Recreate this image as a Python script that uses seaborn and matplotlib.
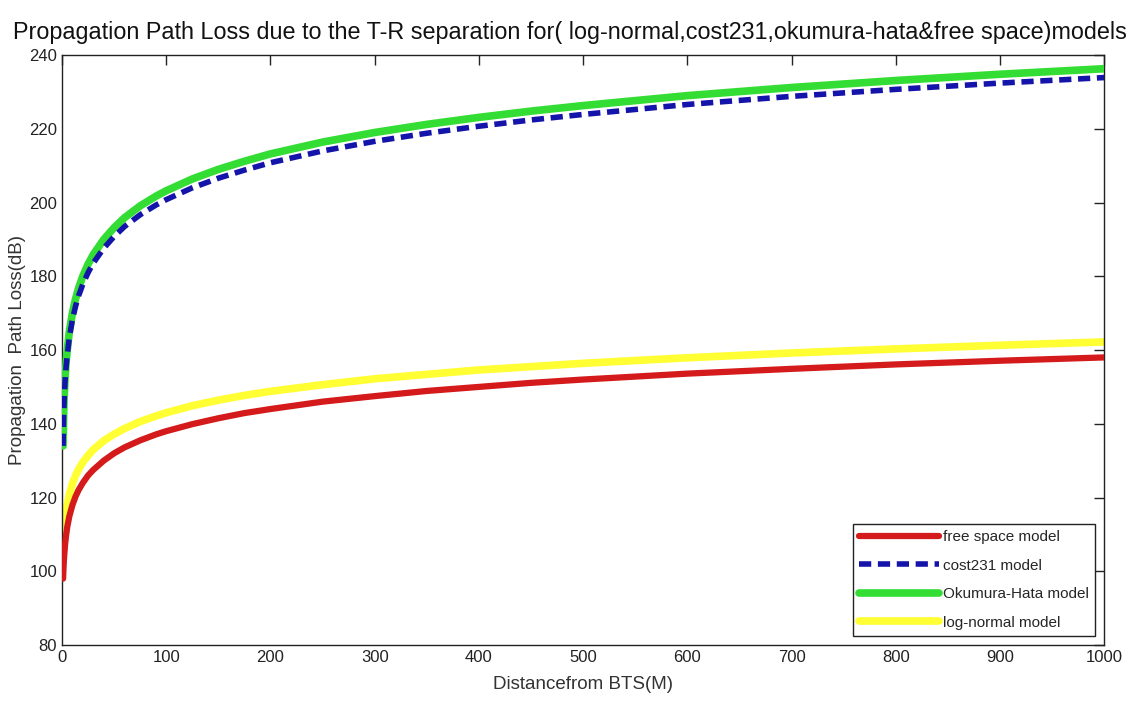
import matplotlib
matplotlib.use("Agg")
import matplotlib.pyplot as plt
import seaborn as sns

distance = [1, 1.5, 2, 3, 4, 5, 7, 10, 13, 16, 20, 25, 30, 40, 50, 60, 75, 90, 100,
            125, 150, 175, 200, 250, 300, 350, 400, 450, 500, 600, 700, 800, 900, 1000]

free_space = [98, 101.5, 104, 107.5, 110, 112, 114.9, 118, 120.3, 122.1, 124, 126,
              127.5, 130, 132, 133.6, 135.5, 137.1, 138, 139.9, 141.5, 142.9, 144,
              146, 147.5, 148.9, 150, 151.1, 152, 153.6, 154.9, 156.1, 157.1, 158]
cost231 = [134, 141.5, 146.3, 152, 155.8, 158.6, 163.4, 168.3, 171.9, 174.8, 177.9,
           181, 183.6, 187.6, 190.8, 193.5, 196.7, 199.3, 200.8, 204, 206.6, 208.8,
           210.8, 214, 216.6, 218.8, 220.7, 222.4, 223.9, 226.6, 228.8, 230.7, 232.4, 233.9]
okumura_hata = [134, 142, 147, 153, 157, 160, 165, 170.1, 173.9, 176.9, 180.1, 183.3,
                185.9, 190, 193.2, 195.9, 199.1, 201.7, 203.2, 206.4, 209, 211.2, 213.2,
                216.4, 219, 221.2, 223.1, 224.8, 226.3, 229, 231.2, 233.1, 234.8, 236.3]
log_normal = [104.6, 108, 110.4, 113.8, 116.2, 118, 120.8, 123.8, 126, 127.7, 129.6,
              131.4, 133, 135.4, 137.2, 138.7, 140.6, 142.1, 143, 144.9, 146.4, 147.7,
              148.8, 150.6, 152.2, 153.4, 154.6, 155.5, 156.4, 157.9, 159.2, 160.3, 161.3, 162.2]

series_labels = ["free space model", "cost231 model", "Okumura-Hata model", "log-normal model"]
x_ticks = list(range(0, 1001, 100))
y_ticks = list(range(80, 241, 20))

title = "Propagation Path Loss due to the T-R separation for( log-normal,cost231,okumura-hata&free space)models"
xlabel = "Distancefrom BTS(M)"
ylabel = "Propagation  Path Loss(dB)"

sns.set_style("white")
plt.rcParams['font.family'] = ['Liberation Sans', 'DejaVu Sans']

fig = plt.figure(figsize=(11.28, 7.06), dpi=100)
ax = fig.add_axes([0.055, 0.0864, 0.924, 0.8356])

styles = [
    (free_space, "#d41a1a", "-", 4.5, 3),
    (cost231, "#1414aa", (0, (2.2, 1.2)), 4.0, 5),
    (okumura_hata, "#33dd33", "-", 5.5, 4),
    (log_normal, "#ffff33", "-", 5.5, 2),
]
for (vals, col, ls, lw, z), lab in zip(styles, series_labels):
    sns.lineplot(x=distance, y=vals, ax=ax, color=col, linestyle=ls, linewidth=lw,
                 label=lab, zorder=z, estimator=None, sort=False)

ax.set_xlim(0, 1000)
ax.set_ylim(80, 240)
ax.set_xticks(x_ticks)
ax.set_yticks(y_ticks)
ax.tick_params(direction="in", length=7, width=1, top=True, right=True,
               labelsize=12, colors="#222222", labelcolor="#222222")
for s in ax.spines.values():
    s.set_color("#222222")
    s.set_linewidth(1.0)

fig.suptitle(title, fontsize=16.8, x=0.505, y=0.97, va="top", color="#111111")
ax.set_xlabel(xlabel, fontsize=13.5, color="#333333", labelpad=8)
ax.set_ylabel(ylabel, fontsize=13.5, color="#333333", labelpad=2)

leg = ax.legend(loc="lower right", fontsize=11, frameon=True, fancybox=False,
                edgecolor="#222222", framealpha=1, handlelength=5.2,
                borderaxespad=0.6, labelspacing=0.95, handletextpad=0.3)
leg.get_frame().set_linewidth(1.0)

fig.savefig("out.png", dpi=100)
